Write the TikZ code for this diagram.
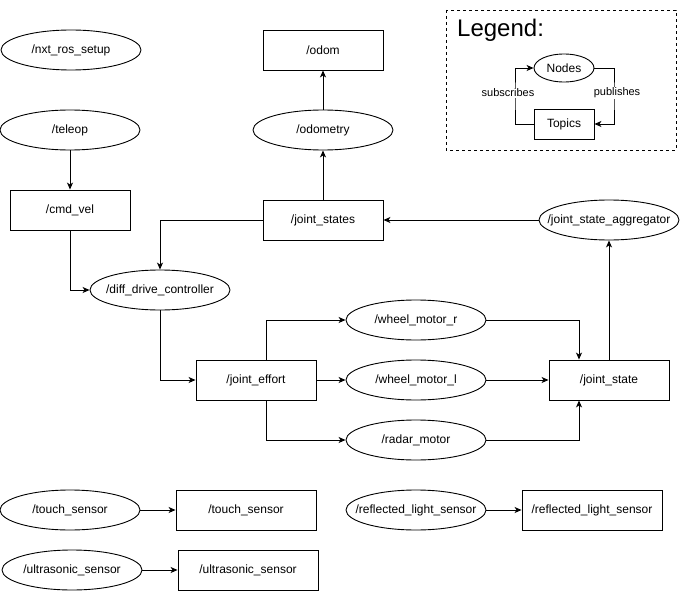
\documentclass[tikz,border=0pt]{standalone}
\usepackage{fontspec}
\setmainfont{Liberation Sans}
\usetikzlibrary{arrows.meta,shapes.geometric}
\newcommand\zw[1]{\makebox[0pt]{#1}}
\begin{document}
\begin{tikzpicture}[x=1pt,y=-1pt,
  every node/.style={font=\fontsize{12}{14}\selectfont, inner sep=0pt},
  topic/.style={draw, line width=0.9pt, minimum width=120pt, minimum height=40pt},
  rosnode/.style={draw, ellipse, line width=0.9pt, minimum width=140pt, minimum height=40pt},
  conn/.style={line width=0.9pt, -{Stealth[length=7pt,width=6pt,inset=2pt]}},
  lbl/.style={font=\fontsize{11}{13}\selectfont, fill=white, inner sep=1pt}]
\useasboundingbox (0,0) rectangle (680,591);
% nodes
\node[rosnode] (setup) at (71,50) {\zw{/nxt\_ros\_setup}};
\node[rosnode] (teleop) at (70,130) {\zw{/teleop}};
\node[topic] (cmd) at (70,210) {/cmd\_vel};
\node[rosnode] (ddc) at (160,290) {\zw{/diff\_drive\_controller}};
\node[topic] (odom) at (323,50) {/odom};
\node[rosnode] (odo) at (323,130) {\zw{/odometry}};
\node[topic] (js) at (323,220) {/joint\_states};
\node[rosnode] (jsa) at (609,220) {\zw{/joint\_state\_aggregator}};
\node[topic] (je) at (256,380) {/joint\_effort};
\node[rosnode] (wmr) at (416,320) {\zw{/wheel\_motor\_r}};
\node[rosnode] (wml) at (416,380) {\zw{/wheel\_motor\_l}};
\node[rosnode] (rm) at (416,440) {\zw{/radar\_motor}};
\node[topic] (jst) at (609,380) {/joint\_state};
\node[rosnode] (tsn) at (70,510) {\zw{/touch\_sensor}};
\node[topic, minimum width=140pt] (tst) at (246,510) {/touch\_sensor};
\node[rosnode] (usn) at (72,570) {\zw{/ultrasonic\_sensor}};
\node[topic, minimum width=140pt] (ust) at (248,570) {/ultrasonic\_sensor};
\node[rosnode] (rln) at (416,510) {\zw{/reflected\_light\_sensor}};
\node[topic, minimum width=140pt] (rlt) at (592,510) {/reflected\_light\_sensor};
% edges
\draw[conn] (teleop) -- (cmd);
\draw[conn] (cmd.south) |- (ddc.west);
\draw[conn] (js.west) -| (ddc.north);
\draw[conn] (ddc.south) |- (je.west);
\draw[conn] (js) -- (odo);
\draw[conn] (odo) -- (odom);
\draw[conn] (jsa) -- (js);
\draw[conn] (jst.north) -- (jsa.south);
\draw[conn] ([xshift=10pt]je.north) |- (wmr.west);
\draw[conn] (je) -- (wml);
\draw[conn] ([xshift=10pt]je.south) |- (rm.west);
\draw[conn] (wmr.east) -| ([xshift=-30pt]jst.north);
\draw[conn] (wml) -- (jst);
\draw[conn] (rm.east) -| ([xshift=-30pt]jst.south);
\draw[conn] (tsn) -- (tst);
\draw[conn] (usn) -- (ust);
\draw[conn] (rln) -- (rlt);
% legend
\draw[dashed, line width=0.8pt] (446,10) rectangle (676,150);
\node[anchor=west, font=\fontsize{24}{28}\selectfont] (legtitle) at (457,30) {Legend:};
\node[draw, ellipse, line width=0.9pt, minimum width=60pt, minimum height=28pt] (lnodes) at (564,68) {\zw{Nodes}};
\node[draw, line width=0.9pt, minimum width=60pt, minimum height=30pt] (ltopics) at (564,124) {Topics};
\coordinate (lsub) at (515,96);
\coordinate (lpub) at (614,96);
\draw[conn] (ltopics.west) -| (lsub) |- (lnodes.west);
\draw[conn] (lnodes.east) -| (lpub) |- (ltopics.east);
\node[lbl] (lsubt) at (508,93) {subscribes};
\node[lbl] (lpubt) at (617,93) {publishes};
\end{tikzpicture}
\end{document}
